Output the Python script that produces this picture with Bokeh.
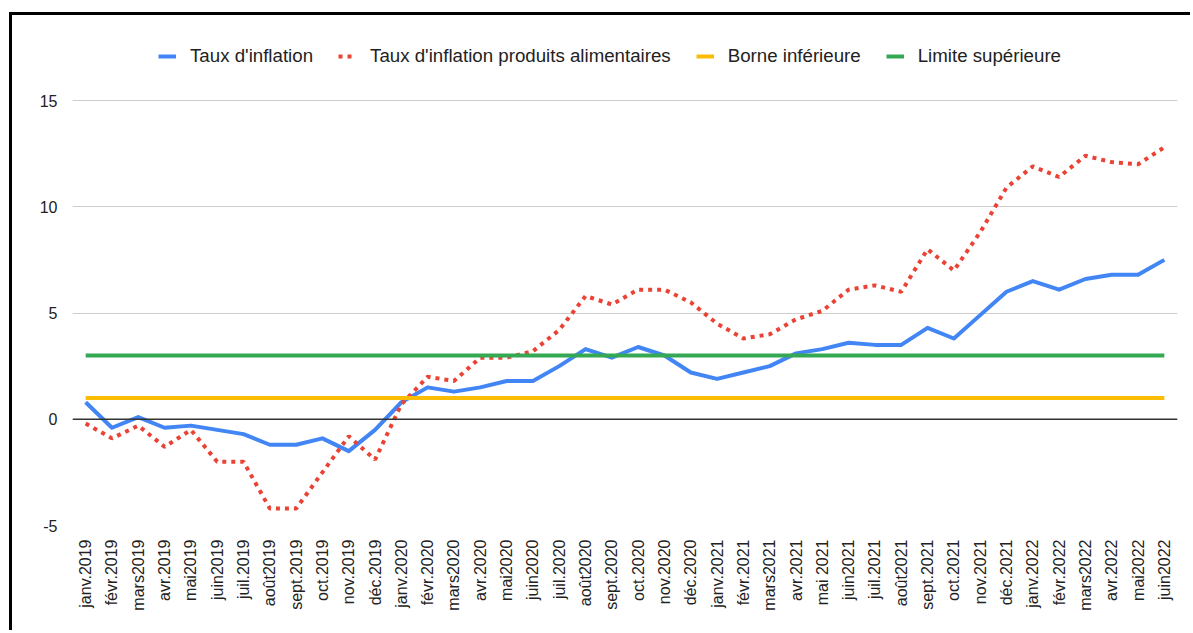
from bokeh.plotting import figure
from bokeh.models import (ColumnDataSource, FactorRange, Range1d, FixedTicker, Span, Legend,
                          LegendItem, PrintfTickFormatter)
from bokeh.embed import file_html
from bokeh.resources import INLINE
import math

months = ["janv.2019", "févr.2019", "mars2019", "avr.2019", "mai2019", "juin2019", "juil.2019",
          "août2019", "sept.2019", "oct.2019", "nov.2019", "déc.2019",
          "janv.2020", "févr.2020", "mars2020", "avr.2020", "mai2020", "juin2020", "juil.2020",
          "août2020", "sept.2020", "oct.2020", "nov.2020", "déc.2020",
          "janv.2021", "févr.2021", "mars2021", "avr.2021", "mai 2021", "juin2021", "juil.2021",
          "août2021", "sept.2021", "oct.2021", "nov.2021", "déc.2021",
          "janv.2022", "févr.2022", "mars2022", "avr.2022", "mai2022", "juin2022"]

inflation = [0.8, -0.4, 0.1, -0.4, -0.3, -0.5, -0.7, -1.2, -1.2, -0.9, -1.5, -0.5,
             0.8, 1.5, 1.3, 1.5, 1.8, 1.8, 2.5, 3.3, 2.9, 3.4, 3.0, 2.2,
             1.9, 2.2, 2.5, 3.1, 3.3, 3.6, 3.5, 3.5, 4.3, 3.8, 4.9, 6.0,
             6.5, 6.1, 6.6, 6.8, 6.8, 7.5]

food_inflation = [-0.2, -0.9, -0.3, -1.3, -0.5, -2.0, -2.0, -4.2, -4.2, -2.5, -0.8, -1.9,
                  0.7, 2.0, 1.8, 2.9, 2.9, 3.2, 4.2, 5.8, 5.4, 6.1, 6.1, 5.5,
                  4.5, 3.8, 4.0, 4.7, 5.1, 6.1, 6.3, 6.0, 8.0, 7.0, 8.8, 10.9,
                  11.9, 11.4, 12.4, 12.1, 12.0, 12.8]

lower_bound = 1.0
upper_limit = 3.0

y_ticks = [-5, 0, 5, 10, 15]

series_names = ["Taux d'inflation", "Taux d'inflation produits alimentaires",
                "Borne inférieure", "Limite supérieure"]

src = ColumnDataSource(dict(
    m=months,
    infl=inflation,
    food=food_inflation,
    low=[lower_bound] * len(months),
    up=[upper_limit] * len(months),
))

FONT = "Liberation Sans"

# frame reaches up to the top of the canvas; the space above 15 holds the legend
p = figure(width=1181, height=618,
           x_range=FactorRange(factors=months, range_padding=0),
           y_range=Range1d(-5, 19),
           output_backend="svg", toolbar_location=None,
           min_border_left=60, min_border_right=16, min_border_top=0, min_border_bottom=108)
p.styles = {"margin-left": "9px", "margin-top": "12px",
            "border-top": "3px solid black", "border-left": "3px solid black"}
p.outline_line_color = None
p.background_fill_color = "white"
p.border_fill_color = "white"

p.xgrid.grid_line_color = None
p.ygrid.grid_line_color = "#cccccc"
p.ygrid.grid_line_width = 1
p.yaxis.ticker = FixedTicker(ticks=y_ticks)
p.ygrid.ticker = FixedTicker(ticks=y_ticks)
p.yaxis.formatter = PrintfTickFormatter(format="%d")

for ax in (p.xaxis[0], p.yaxis[0]):
    ax.axis_line_color = None
    ax.major_tick_line_color = None
    ax.minor_tick_line_color = None
    ax.major_label_text_font = FONT
    ax.major_label_text_color = "#222222"

p.yaxis.major_label_text_font_size = "16px"
p.yaxis.major_label_standoff = 9
p.xaxis.major_label_text_font_size = "16px"
p.xaxis.major_label_orientation = math.pi / 2
p.xaxis.major_label_standoff = 8

p.add_layout(Span(location=0, dimension="width", line_color="#333333", line_width=1.5))

r_infl = p.line("m", "infl", source=src, line_color="#4285F4", line_width=4, line_join="round")
r_food = p.line("m", "food", source=src, line_color="#EA4335", line_width=4,
                line_dash="4 5", line_cap="butt")
r_low = p.line("m", "low", source=src, line_color="#FBBC04", line_width=4)
r_up = p.line("m", "up", source=src, line_color="#34A853", line_width=4)

legend = Legend(items=[LegendItem(label=n, renderers=[r]) for n, r in
                       zip(series_names, [r_infl, r_food, r_low, r_up])],
                orientation="horizontal", location=(86, 458),
                glyph_width=18, glyph_height=20, label_standoff=14, spacing=25,
                padding=0, margin=0, border_line_alpha=0, background_fill_alpha=0,
                label_text_font=FONT, label_text_font_size="18.7px", label_text_color="#222222")
p.add_layout(legend, "center")

open("out.html", "w").write(file_html(p, INLINE))
